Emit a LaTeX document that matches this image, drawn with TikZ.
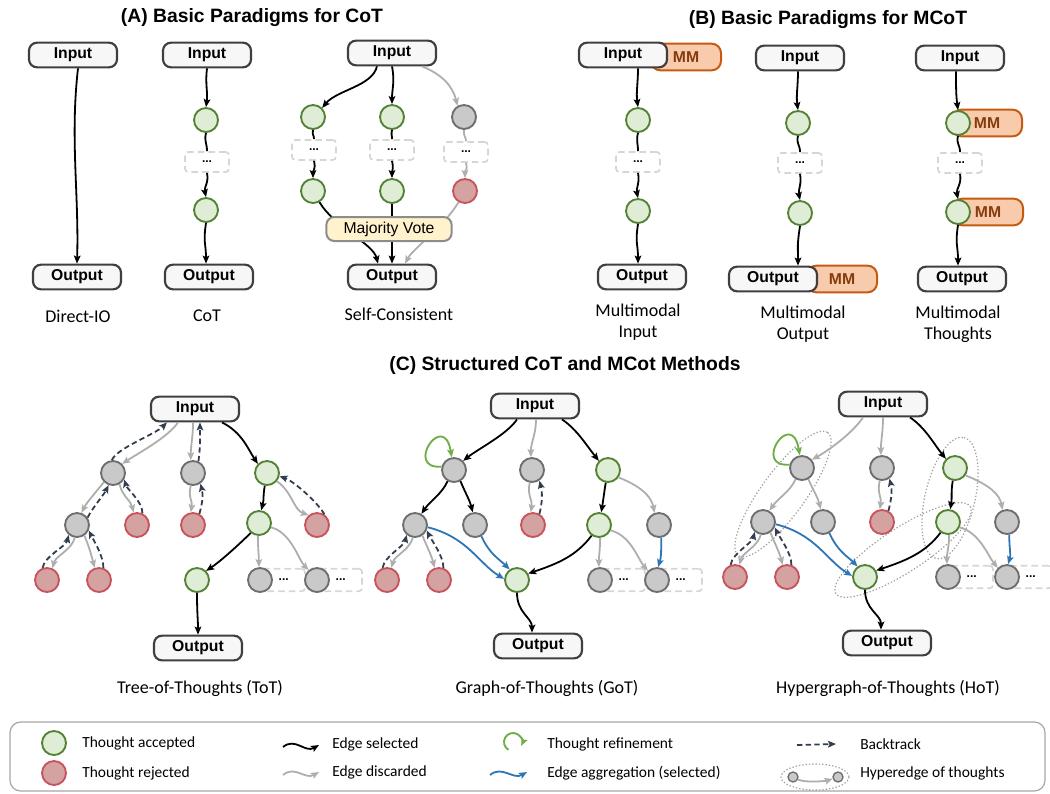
\documentclass[tikz,border=0pt]{standalone}
\usepackage{fontspec}
\setmainfont{Carlito}
\newfontfamily\arialf{Liberation Sans}
\usetikzlibrary{arrows.meta,calc}
\definecolor{boxD}{HTML}{3F3F3F}
\definecolor{boxF}{HTML}{F7F7F7}
\definecolor{accD}{HTML}{548235}
\definecolor{accF}{HTML}{DFEDD6}
\definecolor{rejD}{HTML}{C7545C}
\definecolor{rejF}{HTML}{D5A2A2}
\definecolor{gryD}{HTML}{6E6E6E}
\definecolor{gryF}{HTML}{C9C9C9}
\definecolor{mmD}{HTML}{C55A11}
\definecolor{mmF}{HTML}{F8CBAD}
\definecolor{mmT}{HTML}{843C0C}
\definecolor{voteD}{HTML}{8C8C8C}
\definecolor{voteF}{HTML}{FFF2CC}
\definecolor{disC}{HTML}{AEAEAE}
\definecolor{btC}{HTML}{323E4F}
\definecolor{aggC}{HTML}{2E75B6}
\definecolor{refC}{HTML}{6FAD46}
\definecolor{dotC}{HTML}{D6D6D6}
\definecolor{hypC}{HTML}{A0A0A0}
\definecolor{legD}{HTML}{A6A6A6}
\tikzset{
 nIO/.style={draw=boxD, fill=boxF, line width=1.6pt, rounded corners=6pt, minimum width=66pt, minimum height=18.5pt, inner sep=0pt, font=\arialf\bfseries\fontsize{11.8}{13}\selectfont},
 nMM/.style={draw=mmD, fill=mmF, line width=1.5pt, rounded corners=7pt, minimum width=52.5pt, minimum height=20pt, inner sep=0pt, text=mmT, font=\arialf\bfseries\fontsize{11.8}{13}\selectfont},
 nAcc/.style={circle, draw=accD, fill=accF, line width=1.4pt, minimum size=18pt, inner sep=0pt},
 nRej/.style={circle, draw=rejD, fill=rejF, line width=1.4pt, minimum size=18pt, inner sep=0pt},
 nGry/.style={circle, draw=gryD, fill=gryF, line width=1.4pt, minimum size=18pt, inner sep=0pt},
 nSm/.style={circle, draw=gryD, fill=gryF, line width=1pt, minimum size=7.5pt, inner sep=0pt},
 nDots/.style={draw=dotC, dashed, dash pattern=on 5pt off 3pt, line width=1.3pt, rounded corners=2.5pt, minimum width=33pt, minimum height=15pt, inner sep=0pt, font=\arialf\bfseries\fontsize{9}{10}\selectfont},
 nTail/.style={nDots, minimum width=36pt, minimum height=17pt},
 nVote/.style={draw=voteD, fill=voteF, line width=1.5pt, rounded corners=6pt, minimum width=94pt, minimum height=18pt, inner sep=0pt, font=\arialf\fontsize{11.8}{13}\selectfont},
 ttl/.style={font=\arialf\bfseries\fontsize{14.5}{16}\selectfont},
 lab/.style={font=\fontsize{13.5}{16}\selectfont, align=center},
 legt/.style={font=\fontsize{11.6}{13}\selectfont, anchor=west, inner sep=0pt},
 eBase/.style={line width=1.35pt},
 tip/.style={-{Stealth[length=6pt,width=5pt,inset=1.2pt]}},
 eSel/.style={eBase, draw=black, tip},
 eSelL/.style={eBase, draw=black},
 eDis/.style={eBase, draw=disC, tip},
 eDisL/.style={eBase, draw=disC},
 eBt/.style={eBase, draw=btC, dash pattern=on 4pt off 2.5pt, tip},
 eAgg/.style={eBase, draw=aggC, tip},
 eRef/.style={eBase, draw=refC, line width=1.4pt, tip},
 hyp/.style={draw=hypC, line width=0.9pt, dash pattern=on 1pt off 1.5pt},
}
\begin{document}
\begin{tikzpicture}[x=0.75pt,y=-0.75pt]
\useasboundingbox (0,0) rectangle (1050,793);
% ---------------- titles
\node[ttl] (tA) at (252,18) {(A) Basic Paradigms for CoT};
\node[ttl] (tB) at (828,20) {(B) Basic Paradigms for MCoT};
\node[ttl] (tC) at (565,365) {(C) Structured CoT and MCot Methods};

% ---------------- (A) Direct-IO
\node[nIO] (dIn) at (73,55) {Input};
\node[nIO] (dOut) at (77,277) {Output};
\draw[eSel] ($(dIn.south)+(5,0)$) .. controls +(-8,70) and +(2,-70) .. (dOut.north);
\node[lab] (lDio) at (78,316) {Direct-IO};

% ---------------- (A) CoT
\node[nIO] (cIn) at (207,55) {Input};
\node[nAcc] (c1) at (206,120) {};
\node[nDots] (cd) at (207,162) {...};
\node[nAcc] (c2) at (206,210) {};
\node[nIO] (cOut) at (209,277) {Output};
\draw[eSel] (cIn.south) .. controls +(-2,15) and +(2,-15) .. (c1.north);
\draw[eSelL] (c1.south) .. controls +(-2,8) and +(0,-8) .. (cd.north);
\draw[eSel] (cd.south) .. controls +(2,10) and +(-2,-10) .. (c2.north);
\draw[eSel] (c2.south) .. controls +(-3,20) and +(0,-20) .. (c2 |- cOut.north);
\node[lab] (lCot) at (207,316) {CoT};

% ---------------- (A) Self-Consistent
\node[nIO] (sIn) at (392,53) {Input};
\node[nAcc] (s1) at (313,117) {};
\node[nAcc] (s2) at (392,117) {};
\node[nGry] (s3) at (464,117) {};
\node[nDots] (sd1) at (314,150) {...};
\node[nDots] (sd2) at (392,150) {...};
\node[nDots] (sd3) at (466,152) {...};
\node[nAcc] (s4) at (313,191) {};
\node[nAcc] (s5) at (392,191) {};
\node[nRej] (s6) at (465,191) {};
\node[nIO] (sOut) at (392,277) {Output};
\draw[eSel] ($(sIn.south)+(-15,0)$) .. controls +(-5,20) and +(15,-18) .. (s1.north east);
\draw[eSel] (sIn.south) .. controls +(3,15) and +(0,-15) .. (s2.north);
\draw[eDis] ($(sIn.south)+(30,0)$) .. controls +(20,8) and +(-5,-20) .. (s3.120);
\draw[eSelL] (s1.south) .. controls +(-1,6) and +(0,-5) .. (sd1.north);
\draw[eSelL] (s2.south) .. controls +(-1,6) and +(0,-5) .. (sd2.north);
\draw[eDisL] (s3.south) .. controls +(-1,6) and +(0,-5) .. (sd3.north);
\draw[eSel] (sd1.south) .. controls +(2,10) and +(0,-10) .. (s4.north);
\draw[eSel] (sd2.south) .. controls +(2,10) and +(0,-10) .. (s5.north);
\draw[eDis] (sd3.south) .. controls +(2,10) and +(0,-10) .. (s6.north);
\draw[eSel] (s4.-60) .. controls +(15,25) and +(-5,-20) .. ($(sOut.north)+(-14,0)$);
\draw[eSel] (s5.south) .. controls +(0,30) and +(0,-20) .. (sOut.north);
\draw[eDis] (s6.-120) .. controls +(-15,25) and +(8,-15) .. ($(sOut.north)+(13,0)$);
\node[nVote] (vote) at (389,229) {Majority Vote};
\node[lab] (lSc) at (399,314) {Self-Consistent};

% ---------------- (B) Multimodal Input
\node[nMM] (mmA) at (686,57) {MM};
\node[nIO] (mIn) at (623,55) {Input};
\node[nAcc] (m1) at (638,120) {};
\node[nDots] (md) at (638,162) {...};
\node[nAcc] (m2) at (638,211) {};
\node[nIO] (mOut) at (642,277) {Output};
\draw[eSel] (m1 |- mIn.south) .. controls +(0,15) and +(-2,-15) .. (m1.north);
\draw[eSelL] (m1.south) .. controls +(-2,8) and +(0,-8) .. (md.north);
\draw[eSel] (md.south) .. controls +(2,10) and +(-2,-10) .. (m2.north);
\draw[eSel] (m2.south) .. controls +(-3,20) and +(0,-20) .. (m2 |- mOut.north);
\node[lab] (lMi) at (638,322) {Multimodal\\Input};

% ---------------- (B) Multimodal Output
\node[nIO] (oIn) at (800,58) {Input};
\node[nAcc] (o1) at (798,123) {};
\node[nDots] (od) at (800,163) {...};
\node[nAcc] (o2) at (800,213) {};
\node[nMM] (mmB) at (842,279) {MM};
\node[nIO] (oOut) at (773,279) {Output};
\draw[eSel] (o1 |- oIn.south) .. controls +(0,15) and +(-2,-15) .. (o1.north);
\draw[eSelL] (o1.south) .. controls +(-2,8) and +(0,-8) .. (od.north);
\draw[eSel] (od.south) .. controls +(2,10) and +(-2,-10) .. (o2.north);
\draw[eSel] (o2.south) .. controls +(-3,20) and +(0,-20) .. ($(o2 |- oOut.north)+(-2,0)$);
\node[lab] (lMo) at (803,324) {Multimodal\\Output};

% ---------------- (B) Multimodal Thoughts
\node[nIO] (hhIn) at (960,58) {Input};
\node[nMM] (mmC) at (987,123) {MM};
\node[nAcc] (t1) at (958,123) {};
\node[nDots] (td) at (960,163) {...};
\node[nMM] (mmD) at (988,212) {MM};
\node[nAcc] (t2) at (958,212) {};
\node[nIO] (tOutB) at (962,279) {Output};
\draw[eSel] ($(hhIn.south)+(-4,0)$) .. controls +(0,15) and +(-2,-15) .. (t1.north);
\draw[eSelL] (t1.south) .. controls +(-2,8) and +(0,-8) .. (td.north);
\draw[eSel] (td.south) .. controls +(2,10) and +(-2,-10) .. (t2.north);
\draw[eSel] (t2.south) .. controls +(-3,20) and +(0,-20) .. (t2 |- tOutB.north);
\node[lab] (lMt) at (958,324) {Multimodal\\Thoughts};

% ================= (C) Tree of Thoughts
\node[nIO] (aIn) at (195,409) {Input};
\node[nGry] (aA) at (113,473) {};
\node[nGry] (aB) at (193,473) {};
\node[nAcc] (aC) at (267,473) {};
\node[nGry] (aD) at (77,525) {};
\node[nRej] (aR1) at (137,525) {};
\node[nRej] (aR2) at (193,525) {};
\node[nAcc] (aE) at (259,523) {};
\node[nRej] (aR3) at (317,525) {};
\node[nRej] (aR4) at (47,580) {};
\node[nRej] (aR5) at (99,580) {};
\node[nAcc] (aG) at (197,580) {};
\node[nTail] (aHd) at (281,580) {\hspace*{4pt}...};
\node[nTail] (aId) at (338,580) {\hspace*{4pt}...};
\node[nGry] (aH) at (260,580) {};
\node[nGry] (aI) at (317,580) {};
\node[nIO] (aOut) at (198,648) {Output};
\draw[eDis] ($(aIn.south)+(-17,0)$) .. controls +(-10,15) and +(15,-10) .. (aA.45);
\draw[eBt] (aA.95) .. controls +(5,-12) and +(-12,12) .. ($(aIn.south)+(-28,0)$);
\draw[eDis] ($(aIn.south)+(-2,0)$) .. controls +(0,15) and +(0,-15) .. (aB.100);
\draw[eBt] (aB.65) .. controls +(2,-15) and +(0,15) .. ($(aIn.south)+(5,0)$);
\draw[eSel] ($(aIn.south)+(27,0)$) .. controls +(20,10) and +(-10,-15) .. (aC.135);
\draw[eDis] (aA.-135) .. controls +(-8,10) and +(5,-10) .. (aD.70);
\draw[eBt] (aD.35) .. controls +(5,-10) and +(-5,10) .. (aA.-110);
\draw[eDis] (aA.-60) .. controls +(3,12) and +(-3,-12) .. (aR1.105);
\draw[eBt] (aR1.65) .. controls +(0,-12) and +(3,10) .. (aA.-30);
\draw[eDis] (aB.-100) .. controls +(-3,12) and +(2,-12) .. (aR2.100);
\draw[eBt] (aR2.60) .. controls +(3,-12) and +(3,12) .. (aB.-55);
\draw[eSel] (aC.-100) .. controls +(-2,12) and +(3,-12) .. (aE.80);
\draw[eDis] (aC.-40) .. controls +(15,10) and +(-15,-5) .. (aR3.130);
\draw[eBt] (aR3.55) .. controls +(-5,-10) and +(15,5) .. (aC.-15);
\draw[eDis] (aD.-100) .. controls +(-3,12) and +(3,-12) .. (aR4.65);
\draw[eBt] (aR4.110) .. controls +(2,-12) and +(-3,12) .. (aD.-130);
\draw[eDis] (aD.-55) .. controls +(5,12) and +(-3,-12) .. (aR5.110);
\draw[eBt] (aR5.70) .. controls +(0,-12) and +(5,10) .. (aD.-25);
\draw[eSel] (aE.-130) .. controls +(-10,10) and +(15,-10) .. (aG.45);
\draw[eDis] (aE.-95) .. controls +(0,12) and +(0,-12) .. (aH.95);
\draw[eDis] (aE.-20) .. controls +(20,5) and +(-10,-10) .. (aI.130);
\draw[eSel] (aG.-90) .. controls +(0,20) and +(0,-15) .. (aOut.north);
\node[lab] (lTot) at (200,688) {Tree-of-Thoughts (ToT)};

% ================= (C) Graph of Thoughts
\node[nIO] (gIn) at (535,406) {Input};
\node[nGry] (gA) at (454,470) {};
\node[nGry] (gB) at (532,470) {};
\node[nAcc] (gC) at (608,470) {};
\node[nGry] (gD) at (415,525) {};
\node[nGry] (gE) at (475,525) {};
\node[nRej] (gR1) at (533,525) {};
\node[nAcc] (gF) at (599,525) {};
\node[nGry] (gG) at (659,525) {};
\node[nRej] (gR2) at (387,580) {};
\node[nRej] (gR3) at (439,580) {};
\node[nAcc] (gH) at (517,580) {};
\node[nTail] (gId) at (621,580) {\hspace*{4pt}...};
\node[nTail] (gJd) at (678,580) {\hspace*{4pt}...};
\node[nGry] (gI) at (600,580) {};
\node[nGry] (gJ) at (657,580) {};
\node[nIO] (gOut) at (538,646) {Output};
\draw[eSel] ($(gIn.south)+(-18,0)$) .. controls +(-10,15) and +(15,-12) .. (gA.45);
\draw[eDis] ($(gIn.south)+(1,0)$) .. controls +(0,15) and +(0,-15) .. (gB.95);
\draw[eSel] ($(gIn.south)+(27,0)$) .. controls +(15,10) and +(-12,-15) .. (gC.135);
\draw[eRef] (gA.165) .. controls +(-38,3) and +(-8,-48) .. (gA.100);
\draw[eSel] (gA.-120) .. controls +(-5,12) and +(8,-12) .. (gD.60);
\draw[eSel] (gA.-60) .. controls +(5,12) and +(-3,-12) .. (gE.100);
\draw[eDis] (gB.-100) .. controls +(-3,12) and +(2,-12) .. (gR1.100);
\draw[eBt] (gR1.60) .. controls +(3,-12) and +(3,12) .. (gB.-55);
\draw[eSel] (gC.-100) .. controls +(-2,12) and +(2,-12) .. (gF.80);
\draw[eDis] (gC.-35) .. controls +(25,10) and +(-3,-15) .. (gG.110);
\draw[eDis] (gD.-100) .. controls +(-3,12) and +(3,-12) .. (gR2.70);
\draw[eBt] (gR2.110) .. controls +(2,-12) and +(-3,12) .. (gD.-130);
\draw[eDis] (gD.-55) .. controls +(5,12) and +(-3,-12) .. (gR3.110);
\draw[eBt] (gR3.70) .. controls +(0,-12) and +(5,10) .. (gD.-25);
\draw[eAgg] (gD.-10) .. controls +(40,10) and +(-25,-15) .. (gH.175);
\draw[eAgg] (gE.-60) .. controls +(8,18) and +(-10,-10) .. (gH.125);
\draw[eSel] (gF.-125) .. controls +(-15,20) and +(30,-10) .. (gH.30);
\draw[eDis] (gF.-85) .. controls +(0,12) and +(0,-12) .. (gI.95);
\draw[eDis] (gF.-25) .. controls +(20,5) and +(-10,-12) .. (gJ.135);
\draw[eAgg] (gG.-80) .. controls +(0,15) and +(3,-10) .. (gJ.85);
\draw[eSel] (gH.-90) .. controls +(0,20) and +(0,-15) .. ($(gOut.north)+(-6,0)$);
\node[lab] (lGot) at (547,688) {Graph-of-Thoughts (GoT)};

% ================= (C) Hypergraph of Thoughts
\draw[hyp, rotate around={54:(783,494)}] (783,494) ellipse [x radius=76, y radius=22];
\draw[hyp, rotate around={77:(950,498)}] (950,498) ellipse [x radius=62, y radius=25];
\draw[hyp, rotate around={33:(903,550)}] (903,550) ellipse [x radius=80, y radius=22];
\node[nIO] (hIn) at (883,404) {Input};
\node[nGry] (hA) at (802,468) {};
\node[nGry] (hB) at (882,468) {};
\node[nAcc] (hC) at (955,468) {};
\node[nGry] (hD) at (763,522) {};
\node[nGry] (hE) at (823,522) {};
\node[nRej] (hR1) at (882,522) {};
\node[nAcc] (hF) at (948,522) {};
\node[nGry] (hG) at (1007,522) {};
\node[nRej] (hR2) at (735,577) {};
\node[nRej] (hR3) at (787,577) {};
\node[nAcc] (hH) at (865,577) {};
\node[nTail] (hId) at (969,577) {\hspace*{4pt}...};
\node[nTail] (hJd) at (1028,577) {\hspace*{4pt}...};
\node[nGry] (hI) at (948,577) {};
\node[nGry] (hJ) at (1007,577) {};
\node[nIO] (hOut) at (887,643) {Output};
\draw[eDis] ($(hIn.south)+(-20,0)$) .. controls +(-10,15) and +(18,-10) .. (hA.40);
\draw[eDis] (hIn.south) .. controls +(0,15) and +(0,-15) .. (hB.95);
\draw[eSel] ($(hIn.south)+(27,0)$) .. controls +(15,10) and +(-12,-15) .. (hC.135);
\draw[eRef] (hA.165) .. controls +(-38,3) and +(-8,-48) .. (hA.100);
\draw[eDis] (hA.-120) .. controls +(-5,12) and +(8,-12) .. (hD.60);
\draw[eDis] (hA.-60) .. controls +(5,12) and +(-3,-12) .. (hE.100);
\draw[eDis] (hB.-100) .. controls +(-3,12) and +(2,-12) .. (hR1.100);
\draw[eBt] (hR1.60) .. controls +(3,-12) and +(3,12) .. (hB.-55);
\draw[eSel] (hC.-100) .. controls +(-2,12) and +(2,-12) .. (hF.80);
\draw[eDis] (hC.-35) .. controls +(25,10) and +(-3,-15) .. (hG.110);
\draw[eDis] (hD.-100) .. controls +(-3,12) and +(3,-12) .. (hR2.70);
\draw[eBt] (hR2.110) .. controls +(2,-12) and +(-3,12) .. (hD.-130);
\draw[eDis] (hD.-55) .. controls +(5,12) and +(-3,-12) .. (hR3.110);
\draw[eBt] (hR3.70) .. controls +(0,-12) and +(5,10) .. (hD.-25);
\draw[eAgg] (hD.-10) .. controls +(40,10) and +(-25,-15) .. (hH.175);
\draw[eAgg] (hE.-60) .. controls +(8,18) and +(-10,-10) .. (hH.125);
\draw[eSel] (hF.-125) .. controls +(-15,20) and +(30,-10) .. (hH.30);
\draw[eDis] (hF.-85) .. controls +(0,12) and +(0,-12) .. (hI.95);
\draw[eDis] (hF.-25) .. controls +(20,5) and +(-10,-12) .. (hJ.135);
\draw[eAgg] (hG.-80) .. controls +(0,15) and +(3,-10) .. (hJ.85);
\draw[eSel] (hH.-90) .. controls +(0,20) and +(0,-15) .. ($(hOut.north)+(-6,0)$);
\node[lab] (lHot) at (888,688) {Hypergraph-of-Thoughts (HoT)};

% ================= legend
\draw[draw=legD, line width=0.9pt, rounded corners=8pt] (10,722) rectangle (1045,791);
\node[nAcc] (lg1) at (54,743) {};
\node[legt] (lt1) at (82,743) {Thought accepted};
\node[nRej] (lg2) at (54,773) {};
\node[legt] (lt2) at (82,773) {Thought rejected};
\coordinate (la1) at (283,747); \coordinate (lb1) at (319,745);
\draw[eSel] (la1) .. controls +(12,-10) and +(-14,8) .. (lb1);
\node[legt] (lt3) at (332,744) {Edge selected};
\coordinate (la2) at (283,775); \coordinate (lb2) at (319,772);
\draw[eDis] (la2) .. controls +(12,-10) and +(-14,8) .. (lb2);
\node[legt] (lt4) at (332,772) {Edge discarded};
\coordinate (lrc) at (513,742);
\draw[eRef] ($(lrc)+(120:9)$) arc[start angle=120, end angle=385, radius=9];
\node[legt] (lt5) at (547,744) {Thought refinement};
\coordinate (la3) at (490,775); \coordinate (lb3) at (527,772);
\draw[eAgg] (la3) .. controls +(12,-10) and +(-14,8) .. (lb3);
\node[legt] (lt6) at (547,773) {Edge aggregation (selected)};
\coordinate (la4) at (797,745); \coordinate (lb4) at (836,744);
\draw[eBt] (la4) -- (lb4);
\node[legt] (lt7) at (860,744) {Backtrack};
\draw[hyp] (815,777) ellipse [x radius=34, y radius=13];
\node[nSm] (hs1) at (793,777) {};
\node[nSm] (hs2) at (838,777) {};
\draw[eDis] (hs1) .. controls +(12,6) and +(-12,4) .. (hs2);
\node[legt] (lt8) at (860,773) {Hyperedge of thoughts};
\end{tikzpicture}
\end{document}
